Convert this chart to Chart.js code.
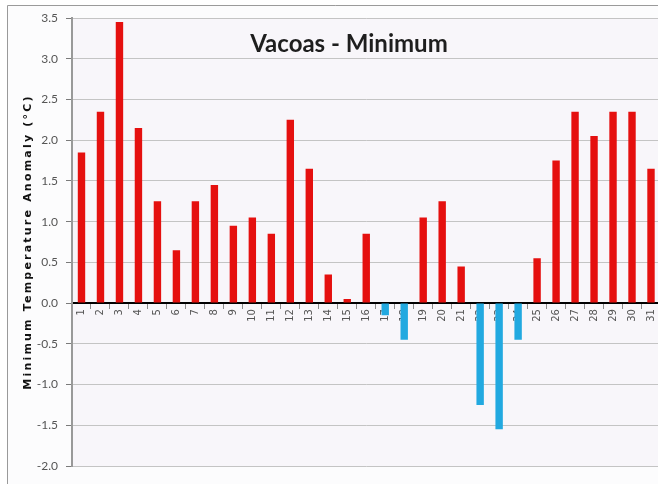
<!DOCTYPE html>
<html>
<head>
<meta charset="utf-8">
<title>Vacoas - Minimum</title>
<script src="https://cdn.jsdelivr.net/npm/chart.js@4/dist/chart.umd.min.js"></script>
<style>
    html, body { margin: 0; padding: 0; background: #fff; overflow: hidden; }
    #wrap { width: 658px; height: 484px; overflow: hidden; }
</style>
</head>
<body>
<div id="wrap"><canvas id="chart" width="664" height="484"></canvas></div>
<script>
// Days of the month
const days = ['1','2','3','4','5','6','7','8','9','10','11','12','13','14','15','16',
    '17','18','19','20','21','22','23','24','25','26','27','28','29','30','31'];

// Minimum temperature anomaly (°C)
const anomaly = [1.85, 2.35, 3.45, 2.15, 1.25, 0.65, 1.25, 1.45, 0.95, 1.05, 0.85, 2.25, 1.65, 0.35, 0.05, 0.85,
    -0.15, -0.45, 1.05, 1.25, 0.45, -1.25, -1.55, -0.45, 0.55, 1.75, 2.35, 2.05, 2.35, 2.35, 1.65];

const chartTitle = 'Vacoas - Minimum';
const yTitle = 'Minimum Temperature Anomaly (°C)';

const warmColor = '#e5100f';
const coldColor = '#22a9e0';

// Background, frame and texts drawn on canvas
const decor = {
    id: 'decor',
    beforeDraw(chart) {
        const { ctx, chartArea: a } = chart;
        ctx.save();
        ctx.fillStyle = '#fcfcfd';
        ctx.fillRect(7, 5, chart.width, chart.height);
        ctx.strokeStyle = '#9a9a9a';
        ctx.lineWidth = 1;
        ctx.beginPath();
        ctx.moveTo(7.5, chart.height);
        ctx.lineTo(7.5, 5.5);
        ctx.lineTo(chart.width, 5.5);
        ctx.stroke();
        ctx.fillStyle = '#f8f6fa';
        ctx.fillRect(a.left, a.top, a.right - a.left, a.bottom - a.top);
        ctx.restore();
    },
    afterDraw(chart) {
        const { ctx, chartArea: a } = chart;
        ctx.save();
        ctx.fillStyle = '#1e1e1e';
        ctx.font = 'bold 24px Lato, sans-serif';
        ctx.textAlign = 'center';
        ctx.textBaseline = 'middle';
        ctx.fillText(chartTitle, 349, 44);

        ctx.translate(28, (a.top + a.bottom) / 2);
        ctx.rotate(-Math.PI / 2);
        ctx.font = 'bold 11px "DejaVu Sans", sans-serif';
        ctx.letterSpacing = '2.2px';
        ctx.fillStyle = '#111';
        ctx.fillText(yTitle, 0, 0);
        ctx.restore();
    }
};

new Chart(document.getElementById('chart'), {
    type: 'bar',
    data: {
        labels: days,
        datasets: [{
            data: anomaly,
            backgroundColor: anomaly.map(v => v < 0 ? coldColor : warmColor),
            borderWidth: 0,
            barPercentage: 0.39,
            categoryPercentage: 1
        }]
    },
    options: {
        responsive: false,
        animation: false,
        layout: {
            padding: { top: 18, bottom: 18, left: 0, right: 0 }
        },
        plugins: {
            legend: { display: false },
            tooltip: { enabled: false }
        },
        scales: {
            x: {
                position: { y: 0 },
                offset: true,
                grid: {
                    display: true,
                    drawOnChartArea: false,
                    drawTicks: true,
                    tickLength: 5,
                    offset: true,
                    color: '#8a8a8a'
                },
                border: { display: true, color: '#000', width: 2 },
                ticks: {
                    autoSkip: false,
                    minRotation: 90,
                    maxRotation: 90,
                    padding: 1,
                    color: '#555',
                    font: { size: 10, family: "'DejaVu Sans', sans-serif" }
                }
            },
            y: {
                min: -2,
                max: 3.5,
                afterFit: scale => { scale.width = 72; },
                grid: {
                    color: '#c4c4c4',
                    drawTicks: true,
                    tickLength: 6,
                    tickColor: '#7a7a7a'
                },
                border: { display: true, color: '#999', width: 2 },
                ticks: {
                    stepSize: 0.5,
                    padding: 8,
                    color: '#555',
                    font: { size: 12, family: 'Lato, sans-serif' },
                    callback: value => value.toFixed(1)
                }
            }
        }
    },
    plugins: [decor]
});
</script>
</body>
</html>
